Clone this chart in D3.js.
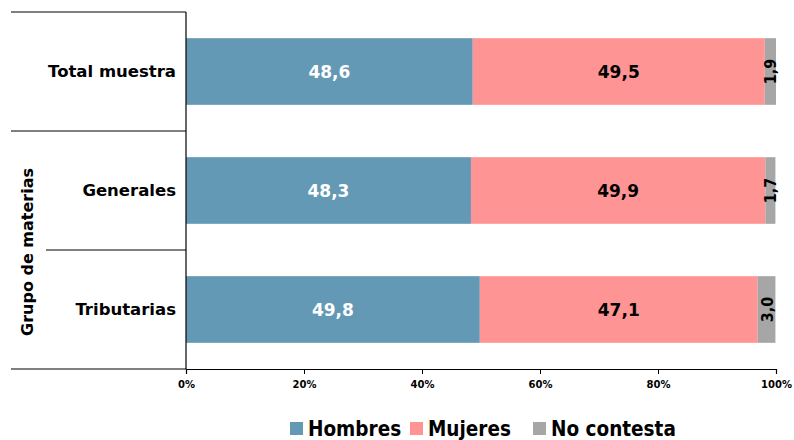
<!DOCTYPE html>
<html>
<head>
<meta charset="utf-8">
<script src="https://cdn.jsdelivr.net/npm/d3@7"></script>
<style>
  html, body { margin: 0; padding: 0; background: #fff; }
  svg { display: block; }
  text { font-family: "DejaVu Sans", Verdana, sans-serif; font-weight: bold; }
  .cond { font-family: "DejaVu Sans Condensed", "DejaVu Sans", sans-serif; }
</style>
</head>
<body>
<svg id="chart" width="794" height="440"></svg>
<script>
// Distribution by sex for each group of subjects (percent)
const categories = ["Total muestra", "Generales", "Tributarias"];
const seriesNames = ["Hombres", "Mujeres", "No contesta"];
const hombres = [48.6, 48.3, 49.8];
const mujeres = [49.5, 49.9, 47.1];
const noContesta = [1.9, 1.7, 3.0];
const tickValues = [0, 20, 40, 60, 80, 100];
const axisTitle = "Grupo de materias";

const colors = ["#6399B5", "#FF9494", "#A6A6A6"];
const labelColors = ["#FFFFFF", "#000000", "#000000"];

const svg = d3.select("#chart");
const plotLeft = 186, plotRight = 776, plotTop = 12, plotBottom = 369;

const rows = categories.map((c, i) => ({
  cat: c,
  Hombres: hombres[i],
  Mujeres: mujeres[i],
  "No contesta": noContesta[i]
}));
const stacked = d3.stack().keys(seriesNames)(rows);

const x = d3.scaleLinear().domain([0, 100]).range([plotLeft, plotRight]);
const y = d3.scaleBand().domain(categories).range([plotTop, plotBottom]).paddingInner(0.44).paddingOuter(0.22);
const yBand = d3.scaleBand().domain(categories).range([plotTop, plotBottom]);

// Bars
const layers = svg.append("g").selectAll("g").data(stacked).join("g")
  .attr("fill", (d, i) => colors[i]);
layers.selectAll("rect").data(d => d).join("rect")
  .attr("x", d => x(d[0]))
  .attr("y", d => y(d.data.cat))
  .attr("width", d => x(d[1]) - x(d[0]))
  .attr("height", y.bandwidth());

// Value labels
stacked.forEach((layer, li) => {
  layer.forEach(d => {
    const cx = (x(d[0]) + x(d[1])) / 2;
    const cy = y(d.data.cat) + y.bandwidth() / 2;
    const val = (d[1] - d[0]);
    const label = d3.format(".1f")(val).replace(".", ",");
    const t = svg.append("text")
      .attr("fill", labelColors[li])
      .attr("font-size", 17)
      .attr("text-anchor", "middle")
      .attr("dominant-baseline", "central")
      .text(label);
    if (li === 2) {
      t.attr("class", "cond").attr("font-size", 16)
        .attr("transform", `translate(${cx + 0.5},${cy}) rotate(-90)`);
    } else {
      t.attr("x", cx).attr("y", cy);
    }
  });
});

// X axis
const xAxis = d3.axisBottom(x).tickValues(tickValues).tickSize(5).tickFormat(d => d + "%");
const gx = svg.append("g").attr("transform", `translate(0,${plotBottom})`).call(xAxis);
gx.select(".domain").attr("stroke", "#000").attr("stroke-width", 1.2);
gx.selectAll(".tick line").attr("stroke", "#000");
gx.selectAll(".tick text").attr("font-size", 10).attr("font-family", null).attr("dy", "1.05em").attr("fill", "#000");

// Vertical axis line
svg.append("line").attr("x1", plotLeft).attr("x2", plotLeft).attr("y1", plotTop).attr("y2", plotBottom)
  .attr("stroke", "#000").attr("stroke-width", 1.2);

// Category separators
const sepStarts = [11, 11, 46, 11];
const sepYs = [plotTop, yBand("Generales"), yBand("Tributarias"), plotBottom];
sepYs.forEach((sy, i) => {
  svg.append("line").attr("x1", sepStarts[i]).attr("x2", plotLeft).attr("y1", sy).attr("y2", sy)
    .attr("stroke", "#000").attr("stroke-width", 1.2);
});

// Category labels
svg.append("g").selectAll("text").data(categories).join("text")
  .attr("x", 176)
  .attr("y", d => y(d) + y.bandwidth() / 2)
  .attr("text-anchor", "end")
  .attr("dominant-baseline", "central")
  .attr("font-size", 16.5)
  .attr("fill", "#000")
  .text(d => d);

// Group title
svg.append("text")
  .attr("transform", `translate(27,252) rotate(-90)`)
  .attr("text-anchor", "middle")
  .attr("dominant-baseline", "central")
  .attr("font-size", 16)
  .attr("fill", "#000")
  .text(axisTitle);

// Legend
const legendX = [290, 410, 533];
const lg = svg.append("g").selectAll("g").data(seriesNames).join("g")
  .attr("transform", (d, i) => `translate(${legendX[i]},422)`);
lg.append("rect").attr("width", 13).attr("height", 13).attr("fill", (d, i) => colors[i]);
lg.append("text").attr("class", "cond").attr("x", 18).attr("y", 6.5).attr("dominant-baseline", "central")
  .attr("font-size", 20.5).attr("fill", "#000").text(d => d);
</script>
</body>
</html>
